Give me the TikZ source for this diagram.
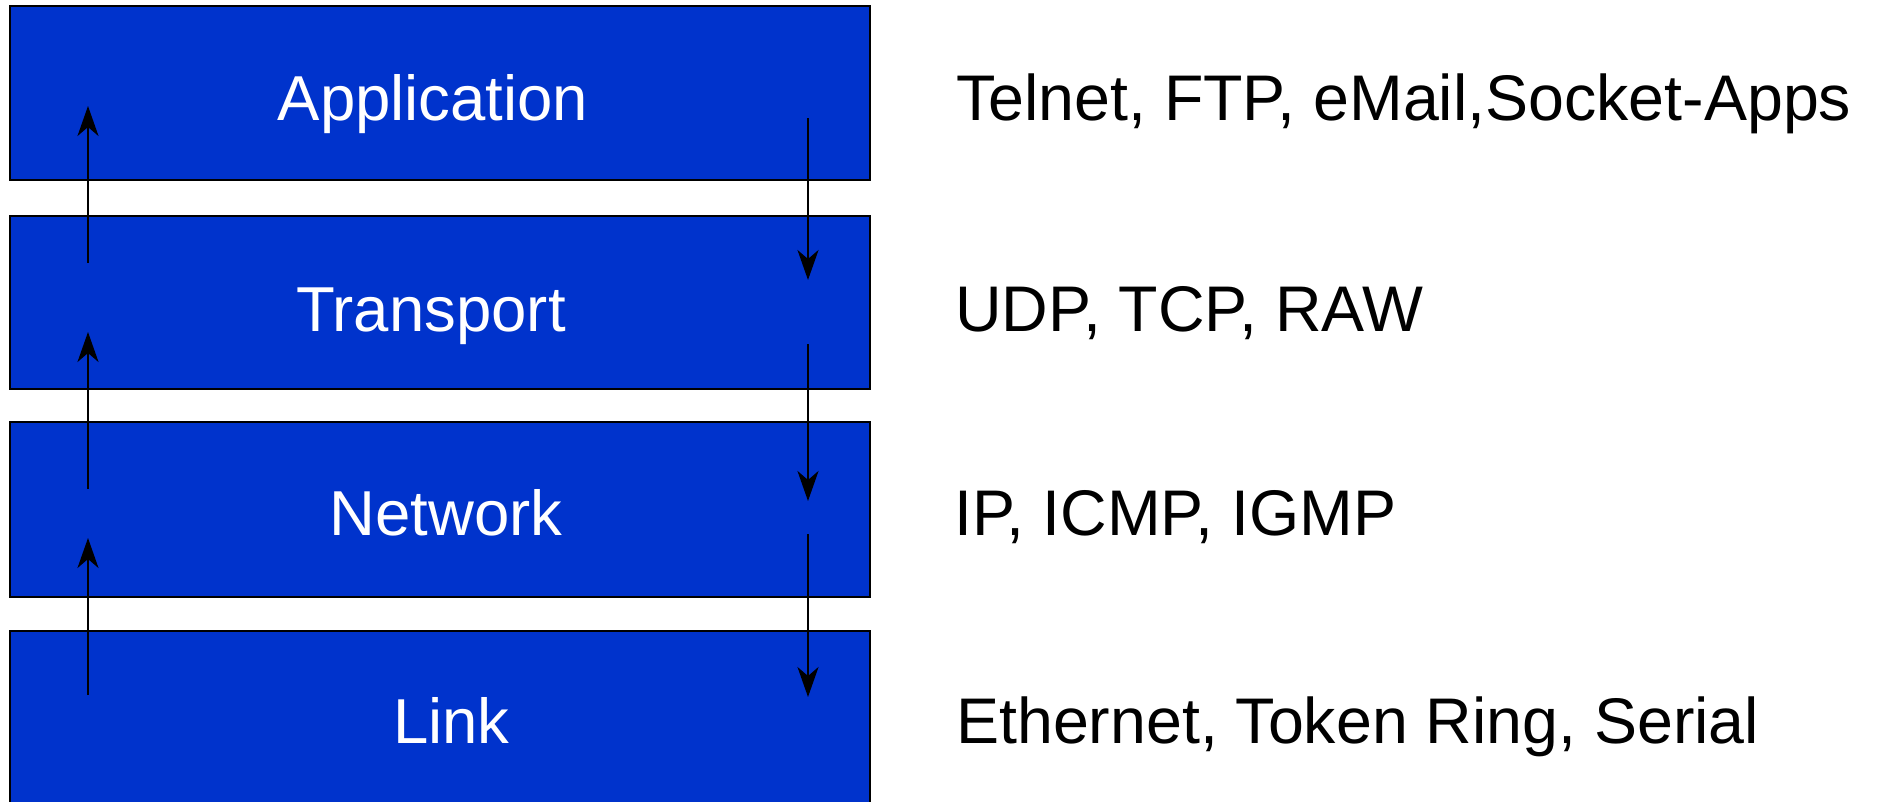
\documentclass[tikz,border=0pt]{standalone}
\usepackage{fontspec}
\setmainfont{Liberation Sans}
\usetikzlibrary{arrows.meta}
\definecolor{layerblue}{RGB}{0,51,204}
\begin{document}
\begin{tikzpicture}[x=1pt,y=-1pt,
  layer/.style={rectangle, draw=black, line width=2.5pt, fill=layerblue,
    minimum width=860pt, inner sep=0pt, outer sep=0pt},
  lbl/.style={text=white, font=\fontsize{63.5}{76}\selectfont, anchor=base, inner sep=0pt},
  proto/.style={text=black, font=\fontsize{64.5}{78}\selectfont, anchor=base west, inner sep=0pt},
  flow/.style={line width=2.5pt, -{Stealth[length=30pt,width=21pt,inset=9pt]}}
]
\useasboundingbox (0,0) rectangle (1879,801);
\clip (0,0) rectangle (1879,801);

% protocol layers
\node[layer, minimum height=174pt] (app)  at (440,93)    {};
\node[layer, minimum height=173pt] (tr)   at (440,302.5) {};
\node[layer, minimum height=175pt] (net)  at (440,509.5) {};
\node[layer, minimum height=174pt] (link) at (440,718)   {};

\node[lbl] (appL)  at (433,120)   {Application};
\node[lbl] (trL)   at (431,331)   {Transport};
\node[lbl] (netL)  at (446,535)   {Network};
\node[lbl] (linkL) at (451.5,743) {Link};

% protocols of each layer
\node[proto] (appP)  at (956,120) {Telnet, FTP, eMail,Socket-Apps};
\node[proto] (trP)   at (955,331) {UDP, TCP, RAW};
\node[proto] (netP)  at (954,535) {IP, ICMP, IGMP};
\node[proto] (linkP) at (956,743) {Ethernet, Token Ring, Serial};

% upward data flow
\coordinate (u1s) at (88,263); \coordinate (u1e) at (88,106);
\coordinate (u2s) at (88,489); \coordinate (u2e) at (88,332);
\coordinate (u3s) at (88,695); \coordinate (u3e) at (88,538);
\draw[flow] (u1s) -- (u1e);
\draw[flow] (u2s) -- (u2e);
\draw[flow] (u3s) -- (u3e);

% downward data flow
\coordinate (d1s) at (808,118); \coordinate (d1e) at (808,280);
\coordinate (d2s) at (808,344); \coordinate (d2e) at (808,501);
\coordinate (d3s) at (808,534); \coordinate (d3e) at (808,697);
\draw[flow] (d1s) -- (d1e);
\draw[flow] (d2s) -- (d2e);
\draw[flow] (d3s) -- (d3e);
\end{tikzpicture}
\end{document}
